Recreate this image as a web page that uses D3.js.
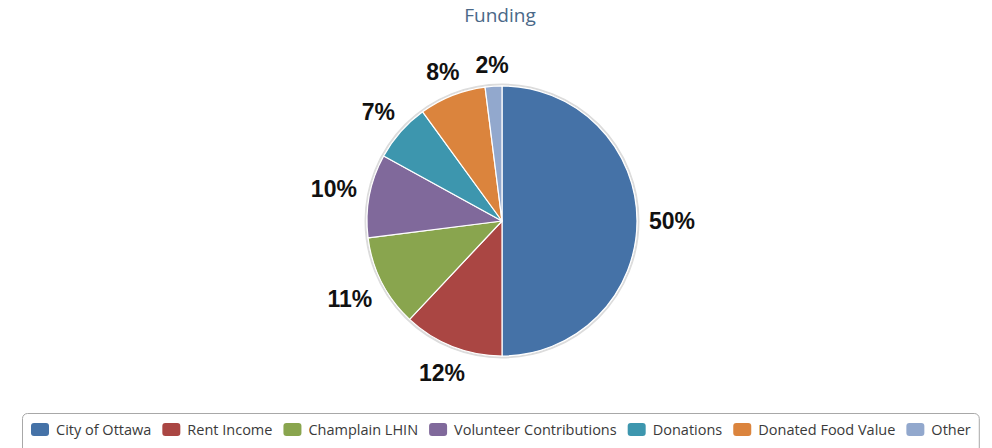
<!DOCTYPE html>
<html>
<head>
<meta charset="utf-8">
<script src="https://cdn.jsdelivr.net/npm/d3@7"></script>
<style>
  body { margin: 0; background: #fff; }
  svg { display: block; }
</style>
</head>
<body>
<svg id="chart" width="992" height="448"></svg>
<script>
// Funding sources, in drawing order (clockwise from 12 o'clock)
const categories = ["City of Ottawa", "Rent Income", "Champlain LHIN", "Volunteer Contributions", "Donations", "Donated Food Value", "Other"];
const shares = [50, 12, 11, 10, 7, 8, 2];
const sliceColors = ["#4572A7", "#AA4643", "#89A54E", "#80699B", "#3D96AE", "#DB843D", "#92A8CD"];
const chartTitle = "Funding";

const svg = d3.select("#chart");
const width = 992;
const cx = 502, cy = 221, radius = 135;

// Title
svg.append("text")
  .attr("x", width / 2 + 4)
  .attr("y", 22)
  .attr("text-anchor", "middle")
  .style("font-family", "'Open Sans', sans-serif")
  .style("font-size", "19px")
  .style("fill", "#4a6888")
  .text(chartTitle);

// Pie
const pieData = d3.pie().sort(null).value(d => d)(shares);
const arc = d3.arc().innerRadius(0).outerRadius(radius);
const g = svg.append("g").attr("transform", `translate(${cx},${cy})`);

g.append("circle")
  .attr("r", radius + 1.5)
  .attr("fill", "none")
  .attr("stroke", "#dcdcdc")
  .attr("stroke-width", 2);

g.selectAll("path.slice")
  .data(pieData)
  .join("path")
  .attr("class", "slice")
  .attr("d", arc)
  .attr("fill", (d, i) => sliceColors[i])
  .attr("stroke", "#ffffff")
  .attr("stroke-width", 1.2)
  .attr("stroke-linejoin", "round");

// Percentage labels placed just outside each slice along its mid-angle
const labelFont = 23;
const capHalf = labelFont * 0.716 / 2;
const labelGap = 147;
const labels = g.selectAll("text.pct")
  .data(pieData)
  .join("text")
  .attr("class", "pct")
  .attr("text-anchor", "middle")
  .style("font-family", "'Liberation Sans', Arial, sans-serif")
  .style("font-weight", "bold")
  .style("font-size", labelFont + "px")
  .style("fill", "#111")
  .text(d => d.data + "%");

labels.each(function (d) {
  const w = this.getComputedTextLength();
  const mid = (d.startAngle + d.endAngle) / 2;
  const ux = Math.sin(mid), uy = -Math.cos(mid);
  const extent = Math.abs(ux) * w / 2 + Math.abs(uy) * capHalf;
  const dist = labelGap + extent;
  d3.select(this)
    .attr("x", ux * dist)
    .attr("y", uy * dist + capHalf);
});

// Legend
const legend = svg.append("g");
const legendItems = legend.selectAll("g.item")
  .data(categories)
  .join("g")
  .attr("class", "item");

legendItems.append("rect")
  .attr("width", 18)
  .attr("height", 13)
  .attr("rx", 3)
  .attr("fill", (d, i) => sliceColors[i]);

legendItems.append("text")
  .attr("x", 25)
  .attr("y", 11.5)
  .style("font-family", "'Open Sans', sans-serif")
  .style("font-size", "14.5px")
  .style("fill", "#3a3a3a")
  .text(d => d);

let xPos = 0;
const offsets = [];
legendItems.each(function () {
  offsets.push(xPos);
  const tw = d3.select(this).select("text").node().getComputedTextLength();
  xPos += 25 + tw + 11;
});
const totalW = xPos - 11;
const startX = Math.round(501 - totalW / 2);
legendItems.attr("transform", (d, i) => `translate(${startX + offsets[i]},423)`);

legend.insert("rect", ":first-child")
  .attr("x", startX - 8.5)
  .attr("y", 413.5)
  .attr("width", totalW + 17)
  .attr("height", 44)
  .attr("rx", 5)
  .attr("fill", "#fff")
  .attr("stroke", "#a8a8a8")
  .attr("stroke-width", 1);
</script>
</body>
</html>
